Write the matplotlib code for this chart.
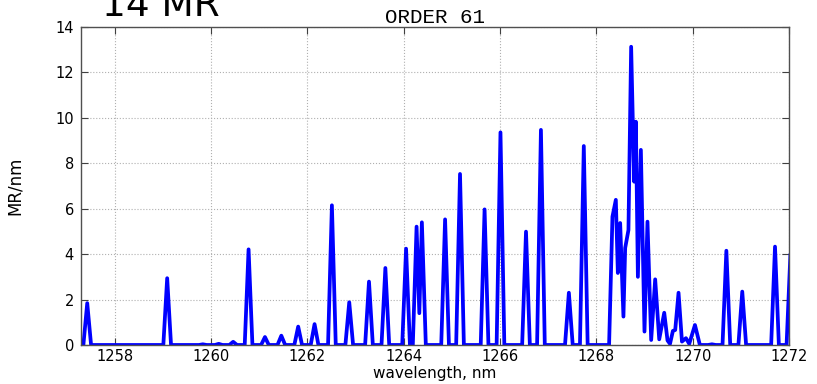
import numpy as np
import matplotlib.pyplot as plt


# isolated lines: centre wavelength (nm) and peak height (MR/nm)
peak_wl = [1257.43, 1259.09, 1259.83, 1260.16, 1260.46, 1260.78, 1261.12,
           1261.46, 1261.81, 1262.15, 1262.51, 1262.87, 1263.28, 1263.62,
           1264.05, 1264.86, 1265.17, 1265.68, 1266.01, 1266.54, 1266.85,
           1267.43, 1267.74, 1270.40, 1270.70, 1271.03, 1271.71, 1272.03]
peak_mr = [1.84, 2.94, 0.03, 0.05, 0.14, 4.21, 0.35,
           0.41, 0.81, 0.92, 6.15, 1.88, 2.79, 3.39,
           4.24, 5.53, 7.53, 5.97, 9.36, 4.99, 9.47,
           2.30, 8.76, 0.03, 4.15, 2.35, 4.33, 4.00]

# blended regions traced point by point
blend_wl = [1264.19, 1264.268, 1264.325, 1264.378, 1264.46,
            1268.265, 1268.335, 1268.405, 1268.447, 1268.495, 1268.563,
            1268.599, 1268.667, 1268.723, 1268.786, 1268.821, 1268.863,
            1268.925, 1269.000, 1269.062, 1269.139, 1269.222, 1269.306,
            1269.410, 1269.478, 1269.53, 1269.590, 1269.638, 1269.707,
            1269.778, 1269.861, 1269.929, 1270.048, 1270.15]
blend_mr = [0.0, 5.21, 1.40, 5.40, 0.0,
            0.0, 5.65, 6.39, 3.17, 5.37, 1.25,
            4.27, 5.06, 13.13, 7.19, 9.83, 3.00,
            8.59, 0.59, 5.43, 0.22, 2.89, 0.25,
            1.42, 0.20, 0.05, 0.62, 0.66, 2.30,
            0.15, 0.30, 0.05, 0.88, 0.0]

xticks = [1258, 1260, 1262, 1264, 1266, 1268, 1270, 1272]
yticks = [0, 2, 4, 6, 8, 10, 12, 14]

hw = 0.08
wl = list(blend_wl) + [1257.2, 1272.2]
mr = list(blend_mr) + [0.0, 0.0]
for c, h in zip(peak_wl, peak_mr):
    wl += [c - hw, c, c + hw]
    mr += [0.0, h, 0.0]
order = np.argsort(wl)
wl = np.array(wl)[order]
mr = np.array(mr)[order]


fig = plt.figure(figsize=(8.17, 3.84), dpi=100)
ax = fig.add_axes([0.0991, 0.1016, 0.8666, 0.8281])

ax.plot(wl, mr, color=(0, 0, 1), linewidth=2.7, solid_joinstyle='round')

ax.set_xlim(1257.3, 1272.0)
ax.set_ylim(0, 14)
ax.set_xticks(xticks)
ax.set_yticks(yticks)
ax.grid(True, linestyle=':', color='#b0b0b0', linewidth=0.8)
ax.tick_params(direction='in', length=5, width=0.8, top=True, right=True,
               labelsize=10.5, color='#404040')
ax.tick_params(axis='x', pad=3)
ax.tick_params(axis='y', pad=5)
for s in ax.spines.values():
    s.set_color('#505050')
    s.set_linewidth(1.0)

ax.set_title('ORDER 61', family='Liberation Mono', fontsize=15, pad=3)
ax.set_xlabel('wavelength, nm', fontsize=11, labelpad=1)
ax.set_ylabel('MR/nm', fontsize=12)
ax.yaxis.set_label_coords(-0.08, 0.5)

fig.text(102 / 817, 1 - 16 / 384, '14 MR', fontsize=27, va='baseline',
         ha='left')

plt.savefig('out.png', dpi=100)
plt.close()
